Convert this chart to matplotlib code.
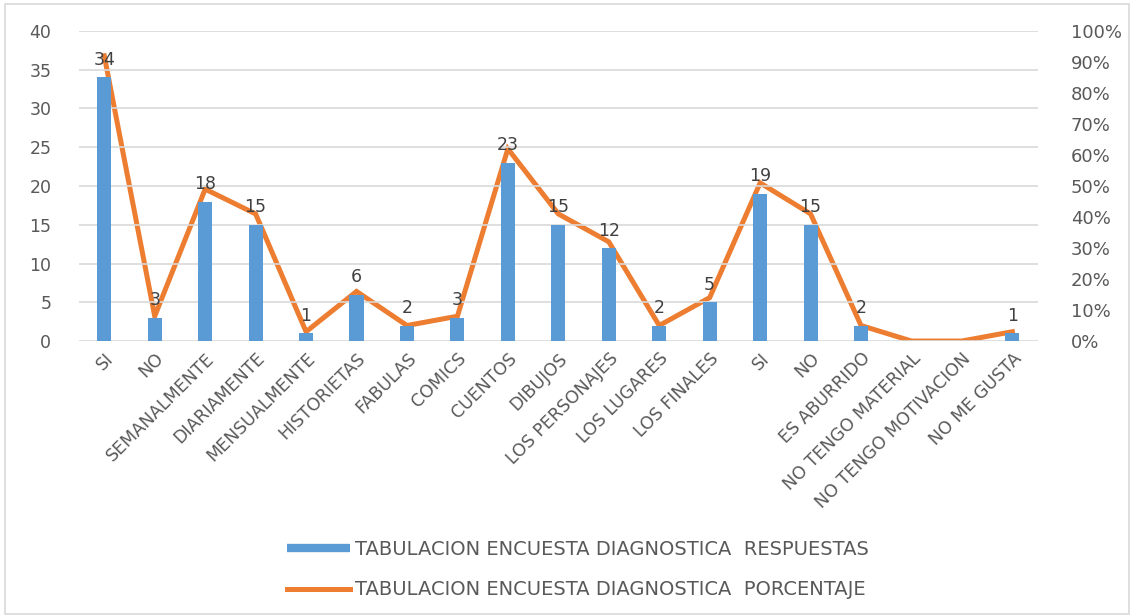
import matplotlib.pyplot as plt
from matplotlib.lines import Line2D
from matplotlib.patches import Rectangle
from matplotlib.ticker import PercentFormatter

categories = ["SI", "NO", "SEMANALMENTE", "DIARIAMENTE", "MENSUALMENTE", "HISTORIETAS",
              "FABULAS", "COMICS", "CUENTOS", "DIBUJOS", "LOS PERSONAJES", "LOS LUGARES",
              "LOS FINALES", "SI", "NO", "ES ABURRIDO", "NO TENGO MATERIAL",
              "NO TENGO MOTIVACION", "NO ME GUSTA"]
respuestas = [34, 3, 18, 15, 1, 6, 2, 3, 23, 15, 12, 2, 5, 19, 15, 2, 0, 0, 1]
porcentaje = [0.92, 0.08, 0.49, 0.41, 0.03, 0.16, 0.05, 0.08, 0.62, 0.41, 0.32, 0.05,
              0.14, 0.51, 0.41, 0.05, 0.0, 0.0, 0.03]

BAR_COLOR = "#5B9BD5"
LINE_COLOR = "#ED7D31"
TEXT_COLOR = "#595959"

plt.rcParams["font.family"] = ["DejaVu Sans"]

fig = plt.figure(figsize=(11.34, 6.16), dpi=100)
fig.patches.append(Rectangle((0.004, 0.004), 0.992, 0.99, transform=fig.transFigure,
                             fill=False, edgecolor="#D9D9D9", linewidth=1.2))
ax = fig.add_axes([0.0697, 0.4464, 0.8453, 0.5033])
ax2 = ax.twinx()

x = list(range(len(categories)))
ax.bar(x, respuestas, width=0.28, color=BAR_COLOR, zorder=2)
ax2.plot(x, porcentaje, color=LINE_COLOR, linewidth=3.6, solid_joinstyle="miter", zorder=3)

for xi, v in zip(x, respuestas):
    if v > 0:
        ax.annotate(str(v), (xi, v), xytext=(0, 6), textcoords="offset points",
                    ha="center", va="bottom", fontsize=12.5, color="#404040", zorder=4)

ax.set_xlim(-0.5, len(categories) - 0.5)
ax.set_ylim(0, 40)
ax.set_yticks(range(0, 41, 5))
ax2.set_ylim(0, 1)
ax2.set_yticks([i / 10 for i in range(11)])
ax2.yaxis.set_major_formatter(PercentFormatter(1.0, decimals=0))

ax.set_xticks(x)
ax.set_xticklabels(categories, rotation=45, ha="right", rotation_mode="anchor",
                   fontsize=11.5, color=TEXT_COLOR)
ax.grid(axis="y", color="#D9D9D9", linewidth=1.2, zorder=0)
ax.set_axisbelow(True)

for a in (ax, ax2):
    for s in a.spines.values():
        s.set_visible(False)
    a.tick_params(length=0, labelsize=12.5, labelcolor=TEXT_COLOR)
ax.tick_params(axis="y", pad=20)
ax.tick_params(axis="x", pad=6)
ax2.tick_params(axis="y", labelsize=13, pad=24)
ax.set_zorder(ax2.get_zorder() + 1)
ax.patch.set_visible(False)

handles = [Line2D([], [], color=BAR_COLOR, linewidth=6, solid_capstyle="butt"),
           Line2D([], [], color=LINE_COLOR, linewidth=3.6)]
labels = ["TABULACION ENCUESTA DIAGNOSTICA  RESPUESTAS",
          "TABULACION ENCUESTA DIAGNOSTICA  PORCENTAJE"]
fig.legend(handles, labels, loc="center", bbox_to_anchor=(0.51, 0.075), ncol=1,
           frameon=False, fontsize=14, labelcolor=TEXT_COLOR, handlelength=3.2,
           handletextpad=0.3, labelspacing=1.1)

fig.savefig("out.png", dpi=100)
